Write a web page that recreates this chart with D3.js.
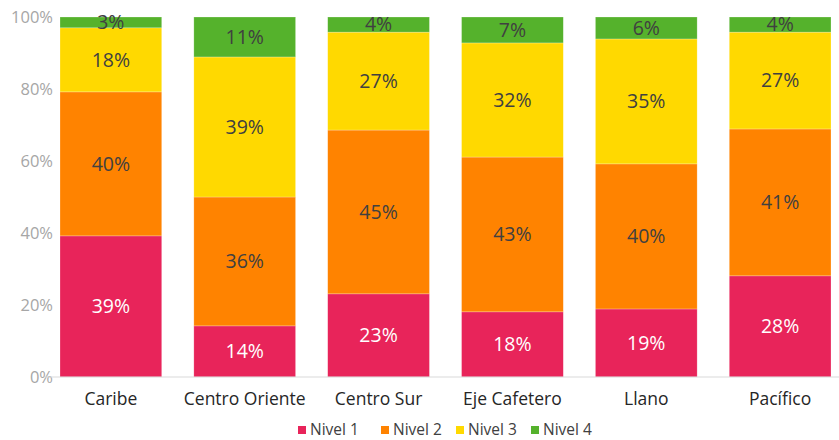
<!DOCTYPE html>
<html lang="es">
<head>
<meta charset="UTF-8">
<title>Niveles por región</title>
<script src="https://d3js.org/d3.v7.min.js"></script>
<style>
  body { margin: 0; background: #fff; }
  svg text { font-family: "Open Sans", "DejaVu Sans", sans-serif; }
</style>
</head>
<body>
<div id="chart"></div>
<script>
// regions and level shares (%)
const regiones = ["Caribe", "Centro Oriente", "Centro Sur", "Eje Cafetero", "Llano", "Pacífico"];
const niveles = ["Nivel 1", "Nivel 2", "Nivel 3", "Nivel 4"];
const nivel1 = [39.2, 14.2, 23.1, 18.1, 18.9, 28.1];
const nivel2 = [40.0, 35.8, 45.5, 43.0, 40.3, 40.8];
const nivel3 = [17.8, 38.9, 27.2, 31.7, 34.7, 26.9];
const nivel4 = [3.0, 11.1, 4.2, 7.2, 6.1, 4.2];
const yTicks = [0, 20, 40, 60, 80, 100];
const colores = ["#e8245a", "#ff8300", "#ffd900", "#55b22c"];

const width = 839, height = 440;
const series = [nivel1, nivel2, nivel3, nivel4];

const rows = regiones.map((r, i) => {
  const o = { region: r };
  niveles.forEach((n, j) => o[n] = series[j][i]);
  return o;
});

const stacked = d3.stack().keys(niveles)(rows);

const svg = d3.select("#chart").append("svg")
  .attr("width", width).attr("height", height);

const x = d3.scaleBand().domain(regiones).range([60, 831])
  .paddingInner(0.24).paddingOuter(0);
const y = d3.scaleLinear().domain([0, 100]).range([377, 17]);
const color = d3.scaleOrdinal().domain(niveles).range(colores);

// y axis labels
svg.append("g").selectAll("text").data(yTicks).join("text")
  .attr("x", 53).attr("y", d => y(d)).attr("dy", "0.35em")
  .attr("text-anchor", "end")
  .attr("font-size", 16.5).attr("fill", "#a6a6a6")
  .text(d => d + "%");

// bars
const layers = svg.append("g").selectAll("g").data(stacked).join("g")
  .attr("fill", d => color(d.key));

layers.selectAll("rect").data(d => d).join("rect")
  .attr("x", d => x(d.data.region))
  .attr("width", x.bandwidth())
  .attr("y", d => y(d[1]))
  .attr("height", d => y(d[0]) - y(d[1]))
  .attr("stroke", "#fff").attr("stroke-opacity", 0.4).attr("stroke-width", 0.6);

// segment labels
stacked.forEach(layer => {
  svg.append("g").selectAll("text").data(layer).join("text")
    .attr("x", d => x(d.data.region) + x.bandwidth() / 2)
    .attr("y", d => (y(d[0]) + y(d[1])) / 2)
    .attr("dy", "0.35em")
    .attr("text-anchor", "middle")
    .attr("font-size", 19.5)
    .attr("fill", layer.key === "Nivel 1" ? "#fff" : "#404040")
    .text(d => Math.round(d[1] - d[0]) + "%");
});

// baseline
svg.append("line")
  .attr("x1", 45).attr("x2", 839)
  .attr("y1", y(0)).attr("y2", y(0))
  .attr("stroke", "#d9d9d9").attr("stroke-width", 1.2);

// category labels
svg.append("g").selectAll("text").data(regiones).join("text")
  .attr("x", d => x(d) + x.bandwidth() / 2)
  .attr("y", 399).attr("dy", "0.35em")
  .attr("text-anchor", "middle")
  .attr("font-size", 17.5).attr("fill", "#262626")
  .text(d => d);

// legend
const legX = [298, 381, 456, 531];
const leg = svg.append("g").selectAll("g").data(niveles).join("g")
  .attr("transform", (d, i) => `translate(${legX[i]},430)`);
leg.append("rect")
  .attr("x", 0).attr("y", -4).attr("width", 8).attr("height", 8)
  .attr("fill", d => color(d));
leg.append("text")
  .attr("x", 12).attr("dy", "0.35em")
  .attr("font-size", 15.5).attr("fill", "#404040")
  .text(d => d);
</script>
</body>
</html>
